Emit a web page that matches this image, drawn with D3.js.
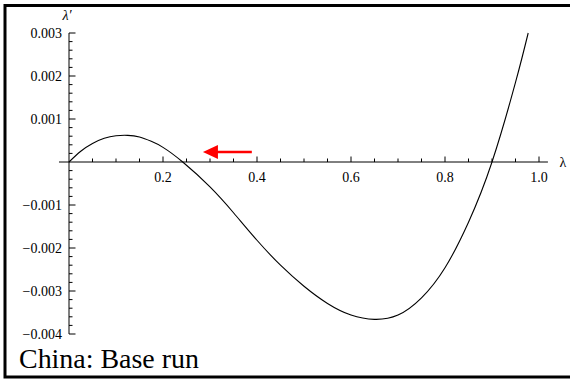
<!DOCTYPE html>
<html>
<head>
<meta charset="utf-8">
<script src="https://cdn.jsdelivr.net/npm/d3@7"></script>
<style>
  body { margin: 0; background: #fff; }
  svg text { font-family: "Liberation Serif", "DejaVu Serif", serif; fill: #000; }
</style>
</head>
<body>
<svg id="chart" width="570" height="379"></svg>
<script>
// curve values: lambda vs lambda'
var lambdas = [0, 0.025, 0.05, 0.075, 0.1, 0.125, 0.15, 0.175, 0.2, 0.242, 0.3, 0.35, 0.4, 0.45,
               0.5, 0.55, 0.6, 0.65, 0.7, 0.75, 0.8, 0.85, 0.9, 0.95, 0.977];
var lambdaPrime = [0, 0.00025, 0.00043, 0.00055, 0.00061, 0.00062, 0.00058, 0.00048, 0.00034, 0, -0.00058,
                   -0.00118, -0.00182, -0.00240, -0.00289, -0.00329, -0.00356, -0.00366, -0.00356,
                   -0.00316, -0.00246, -0.00140, 0, 0.00185, 0.00300];

var xTicks = [0.2, 0.4, 0.6, 0.8, 1.0];
var yTicks = [-0.004, -0.003, -0.002, -0.001, 0.001, 0.002, 0.003];

// red arrow (data units): from tail to head
var arrowTail = [0.389, 0.00023];
var arrowHead = [0.285, 0.00023];

var caption = "China: Base run";

var svg = d3.select("#chart");

var x = d3.scaleLinear().domain([0, 1]).range([69, 539]);
var y = d3.scaleLinear().domain([-0.004, 0.003]).range([334, 33]);

// outer frame (right side falls outside the picture)
svg.append("rect")
    .attr("x", 5).attr("y", 5.5)
    .attr("width", 570).attr("height", 371.5)
    .attr("fill", "none")
    .attr("stroke", "#000")
    .attr("stroke-width", 3);

var fmt = function(d) {
    var s = d3.format(".3f")(Math.abs(d));
    if (d === 1) s = "1.0";
    else if (Math.abs(d) >= 0.1) s = d3.format(".1f")(Math.abs(d));
    return (d < 0 ? "\u2212" : "") + s;
};

// x axis through y = 0
var xMinor = d3.range(0.05, 1.0001, 0.05).filter(function(v) {
    return Math.abs(Math.round(v * 5) - v * 5) > 1e-6;
});
var xg = svg.append("g").attr("class", "x-axis");
xg.append("line")
    .attr("x1", x(-0.0213)).attr("x2", x(1.019))
    .attr("y1", y(0)).attr("y2", y(0))
    .attr("stroke", "#000").attr("stroke-width", 1);
xg.selectAll(".major").data(xTicks).enter().append("line")
    .attr("x1", function(d) { return x(d); }).attr("x2", function(d) { return x(d); })
    .attr("y1", y(0)).attr("y2", y(0) - 5.5)
    .attr("stroke", "#000");
xg.selectAll(".minor").data(xMinor).enter().append("line")
    .attr("x1", function(d) { return x(d); }).attr("x2", function(d) { return x(d); })
    .attr("y1", y(0)).attr("y2", y(0) - 3.5)
    .attr("stroke", "#000");
xg.selectAll("text").data(xTicks).enter().append("text")
    .attr("x", function(d) { return x(d); })
    .attr("y", y(0) + 20)
    .attr("text-anchor", "middle")
    .attr("font-size", 14)
    .text(fmt);
xg.append("text")
    .attr("x", 563).attr("y", y(0) + 5)
    .attr("text-anchor", "middle")
    .attr("font-size", 14)
    .text("\u03bb");

// y axis through x = 0
var yMinor = d3.range(-0.004, 0.00301, 0.0002).filter(function(v) {
    return Math.abs(Math.round(v * 1000) - v * 1000) > 1e-6;
});
var yg = svg.append("g").attr("class", "y-axis");
yg.append("line")
    .attr("x1", x(0)).attr("x2", x(0))
    .attr("y1", y(0.003)).attr("y2", y(-0.004))
    .attr("stroke", "#000").attr("stroke-width", 1);
yg.selectAll(".major").data(yTicks).enter().append("line")
    .attr("x1", x(0)).attr("x2", x(0) + 6.5)
    .attr("y1", function(d) { return y(d); }).attr("y2", function(d) { return y(d); })
    .attr("stroke", "#000");
yg.selectAll(".minor").data(yMinor).enter().append("line")
    .attr("x1", x(0)).attr("x2", x(0) + 3.5)
    .attr("y1", function(d) { return y(d); }).attr("y2", function(d) { return y(d); })
    .attr("stroke", "#000");
yg.selectAll("text").data(yTicks).enter().append("text")
    .attr("x", x(0) - 7)
    .attr("y", function(d) { return y(d) + 4.5; })
    .attr("text-anchor", "end")
    .attr("font-size", 14)
    .text(fmt);
yg.append("text")
    .attr("x", x(0) - 2).attr("y", 20)
    .attr("text-anchor", "middle")
    .attr("font-size", 14)
    .attr("font-style", "italic")
    .text("\u03bb\u2032");

// the curve
var pts = lambdas.map(function(l, i) { return [l, lambdaPrime[i]]; });
var line = d3.line()
    .x(function(d) { return x(d[0]); })
    .y(function(d) { return y(d[1]); })
    .curve(d3.curveNatural);
svg.append("path")
    .datum(pts)
    .attr("d", line)
    .attr("fill", "none")
    .attr("stroke", "#000")
    .attr("stroke-width", 1.1);

// red arrow
var headLen = 15, headHalf = 7;
svg.append("line")
    .attr("x1", x(arrowTail[0])).attr("y1", y(arrowTail[1]))
    .attr("x2", x(arrowHead[0]) + headLen - 1).attr("y2", y(arrowHead[1]))
    .attr("stroke", "#ff0000").attr("stroke-width", 2.5);
svg.append("path")
    .attr("d", "M" + x(arrowHead[0]) + "," + y(arrowHead[1]) +
               "L" + (x(arrowHead[0]) + headLen) + "," + (y(arrowHead[1]) - headHalf) +
               "L" + (x(arrowHead[0]) + headLen) + "," + (y(arrowHead[1]) + headHalf) + "Z")
    .attr("fill", "#ff0000");

// caption
svg.append("text")
    .attr("x", 19).attr("y", 368)
    .attr("font-size", 27)
    .attr("textLength", 180)
    .attr("lengthAdjust", "spacingAndGlyphs")
    .text(caption);
</script>
</body>
</html>
